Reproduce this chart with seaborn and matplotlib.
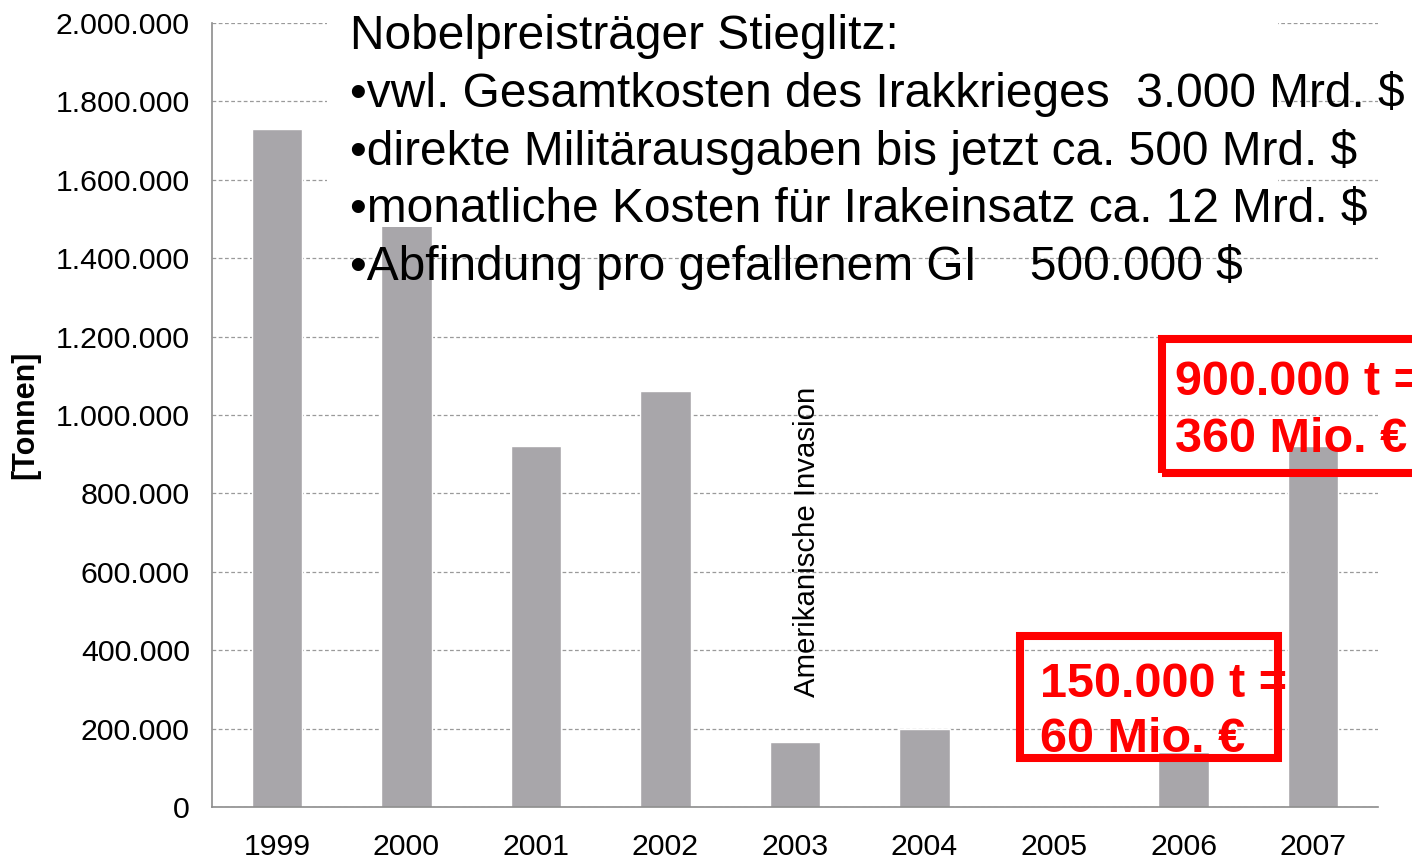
import numpy as np
import pandas as pd
import seaborn as sns
import matplotlib
matplotlib.use("Agg")
import matplotlib.pyplot as plt
from matplotlib.patches import Rectangle
from matplotlib.ticker import FuncFormatter

# --- Daten ---
years = ["1999", "2000", "2001", "2002", "2003", "2004", "2005", "2006", "2007"]
tonnen = [1730000, 1500000, 922000, 1060000, 166000, 200000, 0, 140000, 920000]

y_ticks = [0, 200000, 400000, 600000, 800000, 1000000, 1200000,
           1400000, 1600000, 1800000, 2000000]

info_lines = [
    "Nobelpreisträger Stieglitz:",
    "•vwl. Gesamtkosten des Irakkrieges  3.000 Mrd. $",
    "•direkte Militärausgaben bis jetzt ca. 500 Mrd. $",
    "•monatliche Kosten für Irakeinsatz ca. 12 Mrd. $",
    "•Abfindung pro gefallenem GI    500.000 $",
]
box_2006 = ["150.000 t =", "60 Mio. €"]
box_2007 = ["900.000 t =", "360 Mio. €"]

df = pd.DataFrame({"Jahr": years, "Tonnen": tonnen})

sns.set_style("white")
plt.rcParams["font.family"] = ["Liberation Sans", "DejaVu Sans"]
plt.rcParams["text.color"] = "black"
plt.rcParams["axes.labelcolor"] = "black"

W, H = 1412, 864
fig = plt.figure(figsize=(W / 100, H / 100), dpi=100)
ax = fig.add_axes([212 / W, 1 - 807 / H, 1166 / W, 784 / H])

sns.barplot(data=df, x="Jahr", y="Tonnen", color="#a8a6aa", saturation=1,
            width=0.39, ax=ax, zorder=2)

ax.set_ylim(0, 2000000)
ax.set_xlim(-0.5, 8.5)
ax.set_yticks(y_ticks)
ax.yaxis.set_major_formatter(FuncFormatter(lambda v, p: f"{int(v):,}".replace(",", ".")))
ax.grid(axis="y", linestyle=(0, (3, 2)), color="#9a9a9a", linewidth=0.9, zorder=0)
ax.set_axisbelow(True)

# Ticks zwischen den Kategorien, Beschriftung in der Mitte
ax.set_xticks(np.arange(-0.5, 9.0, 1.0))
ax.set_xticklabels([])
ax.set_xticks(range(len(years)), minor=True)
ax.set_xticklabels(years, minor=True)
ax.tick_params(axis="x", which="major", length=7, width=1, color="#8c8c8c", direction="out")
ax.tick_params(axis="x", which="minor", length=0, pad=19, labelsize=21.8,
               labelcolor="black")
ax.tick_params(axis="y", length=6, width=1, color="#8c8c8c", direction="out",
               pad=10, labelsize=21.8, labelcolor="black")

for s in ["top", "right"]:
    ax.spines[s].set_visible(False)
for s in ["left", "bottom"]:
    ax.spines[s].set_color("#8c8c8c")
    ax.spines[s].set_linewidth(1.2)

ax.set_xlabel("")
ax.set_ylabel("[Tonnen]", fontsize=22, fontweight="bold")
ax.yaxis.set_label_coords(-0.147, 0.5)

ax.text(4.09, 280000, "Amerikanische Invasion", rotation=90, ha="center",
        va="bottom", fontsize=21.2, zorder=5)

# weisser Kasten hinter dem Textblock
fig.patches.append(Rectangle((327 / W, 1 - 227 / H), (1278 - 327) / W, 227 / H,
                             transform=fig.transFigure, facecolor="white",
                             edgecolor="none", zorder=3))
baselines = [49, 107, 165, 222, 280]
for line, yb in zip(info_lines, baselines):
    fig.text(350 / W, 1 - yb / H, line, fontsize=34.5, va="baseline",
             ha="left", zorder=4)

# rote Kaesten
red = "#ff0000"
fig.patches.append(Rectangle((1020 / W, 1 - 758 / H), 258 / W, 122 / H,
                             transform=fig.transFigure, facecolor="none",
                             edgecolor=red, linewidth=5.8, zorder=6))
fig.patches.append(Rectangle((1162 / W, 1 - 473 / H), 300 / W, 134 / H,
                             transform=fig.transFigure, facecolor="none",
                             edgecolor=red, linewidth=5.8, zorder=6))
for line, yb in zip(box_2006, [697, 752]):
    fig.text(1040 / W, 1 - yb / H, line, fontsize=35, fontweight="bold",
             color=red, va="baseline", ha="left", zorder=7)
for line, yb in zip(box_2007, [395, 452]):
    fig.text(1175 / W, 1 - yb / H, line, fontsize=35, fontweight="bold",
             color=red, va="baseline", ha="left", zorder=7)

fig.savefig("out.png", dpi=100)
